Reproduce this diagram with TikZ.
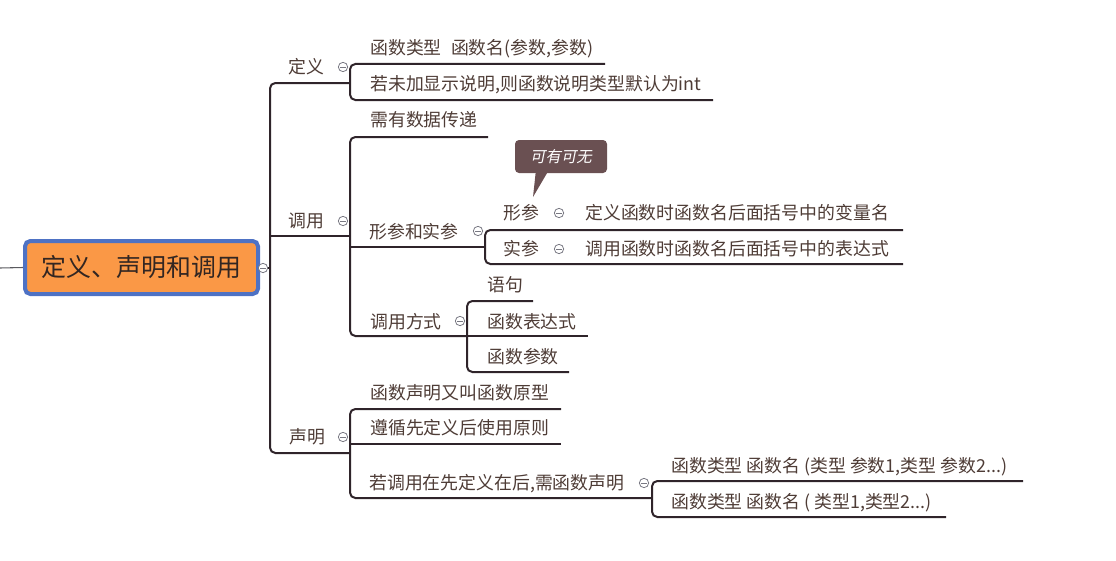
\documentclass[tikz,border=0pt]{standalone}
\usepackage{fontspec}
\setmainfont{Noto Sans CJK SC}
\newfontfamily\callfont[FakeSlant=0.2]{Noto Sans CJK SC}
\definecolor{txt}{RGB}{78,60,54}
\definecolor{roottxt}{RGB}{50,38,34}
\definecolor{ln}{RGB}{47,36,42}
\definecolor{rootfill}{RGB}{250,152,70}
\definecolor{rootdraw}{RGB}{78,114,196}
\definecolor{callfill}{RGB}{106,80,82}
\definecolor{collgray}{RGB}{120,120,130}
\definecolor{stubgray}{RGB}{90,90,95}
\begin{document}
\begin{tikzpicture}[x=0.75pt,y=-0.75pt,
  topic/.style={anchor=west, inner sep=0pt, text=txt, font=\fontsize{13.4}{16}\selectfont, text height=11.8pt, text depth=1.6pt},
  rootbox/.style={draw=rootdraw, line width=3pt, fill=rootfill, rounded corners=4pt, minimum width=174.75pt, minimum height=39.75pt, inner sep=0pt, text=roottxt, font=\fontsize{18.7}{22}\selectfont, text height=16.4pt, text depth=2.2pt},
  br/.style={draw=ln, line width=1.5pt, rounded corners=4pt},
  stubline/.style={draw=stubgray, line width=0.8pt},
  coll/.style={circle, draw=collgray, fill=white, line width=0.6pt, minimum size=7pt, inner sep=0pt,
    path picture={\draw[collgray, line width=0.6pt] ([xshift=-2pt]path picture bounding box.center) -- ([xshift=2pt]path picture bounding box.center);}},
  callbox/.style={fill=callfill, rounded corners=3pt, minimum width=69pt, minimum height=24.75pt, inner sep=0pt, text=white, font=\callfont\fontsize{11.6}{14}\selectfont}
]
\useasboundingbox (0,0) rectangle (1116,560);

% root
\node[rootbox] (root) at (141.5,267.5) {定义、声明和调用};
\coordinate (stub) at (0,268);
\draw[stubline] (stub) -- (root.west);
\node[coll] (rc) at (263,268) {};

% level 1 coordinates
\coordinate (t1L) at (270,83);  \coordinate (t1R) at (350,83);
\coordinate (t2L) at (270,236); \coordinate (t2R) at (350,236);
\coordinate (t3L) at (270,453); \coordinate (t3R) at (350,453);
\draw[br] (rc.east) -- (rc.east -| t1L);
\draw[br] (t1R) -- (t1L) |- (t3R);
\draw[br] (t2L) -- (t2R);

% 定义 children
\coordinate (c11L) at (350,64);  \coordinate (c11R) at (605,64);
\coordinate (c12L) at (350,100); \coordinate (c12R) at (713,100);
\draw[br] (c11R) -- (c11L) |- (c12R);

% 调用 children
\coordinate (c21L) at (350,137); \coordinate (c21R) at (488,137);
\coordinate (c22L) at (350,247); \coordinate (c22R) at (485,247);
\coordinate (c23L) at (350,336); \coordinate (c23R) at (467,336);
\draw[br] (c21R) -- (c21L) |- (c23R);
\draw[br] (c22L) -- (c22R);

% 形参和实参 children
\coordinate (d21L) at (485,230); \coordinate (d21R) at (903,230);
\coordinate (d22L) at (485,264); \coordinate (d22R) at (903,264);
\draw[br] (d21R) -- (d21L) |- (d22R);

% 调用方式 children
\coordinate (d31L) at (467,301); \coordinate (d31R) at (533,301);
\coordinate (d32L) at (467,336); \coordinate (d32R) at (588,336);
\coordinate (d33L) at (467,372); \coordinate (d33R) at (569,372);
\draw[br] (d31R) -- (d31L) |- (d33R);
\draw[br] (d32L) -- (d32R);

% 声明 children
\coordinate (c31L) at (350,409); \coordinate (c31R) at (561,409);
\coordinate (c32L) at (350,444); \coordinate (c32R) at (561,444);
\coordinate (c33L) at (350,498); \coordinate (c33R) at (652,498);
\draw[br] (c31R) -- (c31L) |- (c33R);
\draw[br] (c32L) -- (c32R);

% 若调用 children
\coordinate (f1L) at (652,481); \coordinate (f1R) at (1023,481);
\coordinate (f2L) at (652,517); \coordinate (f2R) at (946,517);
\draw[br] (f1R) -- (f1L) |- (f2R);

% texts
\node[topic] (t1) at (288.5,67) {定义};
\node[topic] (t2) at (288.5,221) {调用};
\node[topic] (t3) at (289,437) {声明};

\node[topic] (c11) at (370,48) {函数类型\hspace{7pt}函数名(参数,参数)};
\node[topic] (c12) at (370,84) {若未加显示说明,则函数说明类型默认为int};
\node[topic] (c21) at (370,120) {需有数据传递};
\node[topic] (c22) at (369,232) {形参和实参};
\node[topic] (c23) at (370,322) {调用方式};

\node[topic] (d21) at (503,213) {形参};
\node[topic] (e1) at (585,213) {定义函数时函数名后面括号中的变量名};
\node[topic] (d22) at (503,249) {实参};
\node[topic] (e2) at (585,249) {调用函数时函数名后面括号中的表达式};

\node[topic] (d31) at (487,285) {语句};
\node[topic] (d32) at (487,322) {函数表达式};
\node[topic] (d33) at (487,357) {函数参数};

\node[topic] (c31) at (370,393) {函数声明又叫函数原型};
\node[topic] (c32) at (370,428) {遵循先定义后使用原则};
\node[topic] (c33) at (369,483) {若调用在先定义在后,需函数声明};

\node[topic] (f1) at (671,466) {函数类型 函数名 (类型 参数1,类型 参数2...)};
\node[topic] (f2) at (671,502) {函数类型 函数名 ( 类型1,类型2...)};

% collapse circles
\node[coll] (t1c) at (343,67) {};
\node[coll] (t2c) at (343,221) {};
\node[coll] (t3c) at (343,437) {};
\node[coll] (c22c) at (478,231) {};
\node[coll] (c23c) at (460,321) {};
\node[coll] (c33c) at (644,483) {};
\node[coll] (d21c) at (559,213) {};
\node[coll] (d22c) at (559,249) {};

% callout
\node[callbox] (cb) at (561,156.5) {可有可无};
\coordinate (tip) at (533,197);
\fill[callfill] ([xshift=15.75pt,yshift=1pt]cb.south west) -- (tip) -- ([xshift=24.75pt,yshift=1pt]cb.south west) -- cycle;
\end{tikzpicture}
\end{document}
